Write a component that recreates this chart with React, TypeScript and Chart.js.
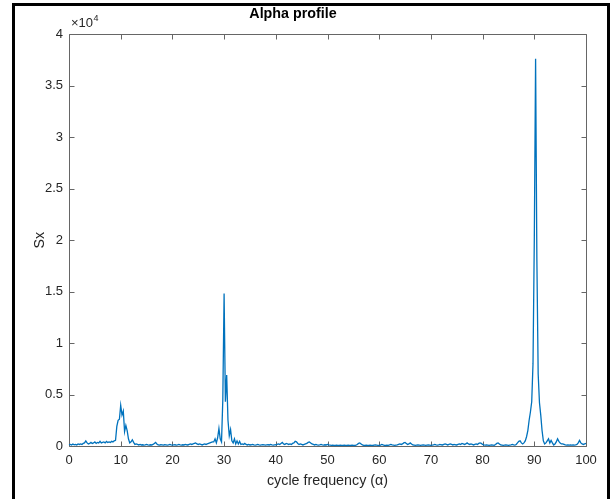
import React, { useEffect, useRef } from "react";
import { Chart, registerables } from "chart.js";

Chart.register(...registerables);

// ---------- data ----------
const ALPHA_START = 0;
const ALPHA_STEP = 0.25;

// Sx values sampled every 0.25 in alpha, from 0 to 100
const SX_VALUES: number[] = [
  // 0.00 - 4.75
  100, 150, 100, 200, 120, 150, 100, 200, 150, 200, 150, 250, 300, 500, 300, 200, 250, 350, 250, 300,
  // 5.00 - 9.75
  400, 250, 350, 300, 450, 300, 350, 400, 300, 450, 350, 400, 350, 450, 400, 500, 550, 1900, 2500, 2600,
  // 10.00 - 14.75
  3950, 3000, 3400, 1400, 2000, 1500, 700, 300, 400, 600, 350, 150, 200, 150, 100, 150, 100, 120, 80, 100,
  // 15.00 - 19.75
  150, 100, 80, 120, 100, 150, 250, 350, 200, 100, 80, 120, 100, 80, 120, 100, 80, 100, 150, 100,
  // 20.00 - 24.75
  80, 100, 120, 80, 100, 150, 100, 80, 120, 100, 150, 120, 100, 150, 200, 150, 200, 250, 300, 200,
  // 25.00 - 29.75
  150, 200, 150, 100, 150, 200, 150, 200, 250, 300, 350, 400, 400, 700, 300, 800, 1700, 700, 400, 4500,
  // 30.00 - 34.75
  14800, 4300, 6900, 2500, 1000, 1600, 500, 300, 700, 200, 500, 200, 450, 150, 200, 150, 250, 150, 100, 150,
  // 35.00 - 39.75
  100, 120, 150, 100, 80, 100, 150, 100, 80, 100, 120, 100, 80, 100, 120, 100, 150, 100, 80, 100,
  // 40.00 - 44.75
  120, 150, 200, 150, 250, 350, 200, 150, 250, 200, 150, 200, 150, 250, 300, 450, 400, 250, 150, 200,
  // 45.00 - 49.75
  150, 100, 150, 200, 250, 350, 400, 300, 200, 150, 100, 150, 100, 80, 100, 150, 100, 80, 120, 100,
  // 50.00 - 54.75
  150, 100, 80, 60, 80, 60, 50, 80, 60, 50, 80, 60, 50, 80, 60, 50, 80, 60, 50, 80,
  // 55.00 - 59.75
  60, 50, 80, 150, 250, 300, 200, 100, 60, 50, 80, 60, 50, 80, 60, 50, 80, 100, 80, 60,
  // 60.00 - 64.75
  50, 80, 150, 100, 60, 50, 80, 60, 100, 150, 100, 80, 60, 80, 100, 150, 200, 150, 200, 300,
  // 65.00 - 69.75
  350, 250, 150, 200, 300, 200, 100, 80, 60, 80, 100, 80, 60, 80, 100, 80, 60, 80, 100, 80,
  // 70.00 - 74.75
  60, 80, 100, 150, 100, 80, 100, 150, 120, 100, 150, 200, 150, 100, 150, 200, 150, 100, 150, 120,
  // 75.00 - 79.75
  100, 150, 200, 150, 250, 200, 150, 200, 300, 200, 150, 200, 150, 100, 150, 200, 150, 250, 300, 250,
  // 80.00 - 84.75
  150, 100, 80, 100, 80, 60, 80, 100, 80, 60, 150, 250, 300, 200, 100, 80, 60, 80, 100, 80,
  // 85.00 - 89.75
  60, 80, 100, 150, 100, 80, 150, 300, 450, 500, 300, 200, 300, 500, 900, 1500, 2500, 3300, 4300, 8000,
  // 90.00 - 94.75
  20000, 37600, 18000, 7000, 4200, 3000, 1500, 500, 200, 300, 500, 700, 300, 550, 300, 100, 200, 400, 700, 450,
  // 95.00 - 99.75
  300, 200, 200, 150, 100, 80, 100, 80, 100, 80, 100, 80, 100, 150, 300, 550, 300, 200, 150, 200,
  // 100.00
  250,
];

const X_TICKS = [0, 10, 20, 30, 40, 50, 60, 70, 80, 90, 100];
const Y_TICKS = [0, 5000, 10000, 15000, 20000, 25000, 30000, 35000, 40000];
const Y_TICK_LABELS = ["0", "0.5", "1", "1.5", "2", "2.5", "3", "3.5", "4"];

const TITLE = "Alpha profile";
const X_LABEL = "cycle frequency (α)";
const Y_LABEL = "Sx";
const EXP_BASE = "×10";
const EXP_POWER = "4";

// ---------- style ----------
const FONT = "'Liberation Sans', Arial, Helvetica, sans-serif";
const LINE_COLOR = "#0072BD";
const AXIS_COLOR = "#666666";
const TEXT_COLOR = "#262626";

const axesBox = {
  id: "axesBox",
  beforeDatasetsDraw(chart: any) {
    const { ctx, chartArea, scales } = chart;
    const l = Math.round(chartArea.left) + 0.5;
    const r = Math.round(chartArea.right) + 0.5;
    const t = Math.round(chartArea.top) + 0.5;
    const b = Math.round(chartArea.bottom) + 0.5;
    const tl = 5;
    ctx.save();
    ctx.strokeStyle = AXIS_COLOR;
    ctx.lineWidth = 1;
    ctx.beginPath();
    ctx.rect(l, t, r - l, b - t);
    for (const v of X_TICKS) {
      const x = Math.round(scales.x.getPixelForValue(v)) + 0.5;
      ctx.moveTo(x, b);
      ctx.lineTo(x, b - tl);
      ctx.moveTo(x, t);
      ctx.lineTo(x, t + tl);
    }
    for (const v of Y_TICKS) {
      const y = Math.round(scales.y.getPixelForValue(v)) + 0.5;
      ctx.moveTo(l, y);
      ctx.lineTo(l + tl, y);
      ctx.moveTo(r, y);
      ctx.lineTo(r - tl, y);
    }
    ctx.stroke();
    ctx.restore();
  },
  afterDraw(chart: any) {
    const { ctx, chartArea } = chart;
    ctx.save();
    ctx.fillStyle = TEXT_COLOR;
    ctx.textBaseline = "alphabetic";
    ctx.textAlign = "left";
    ctx.font = `13px ${FONT}`;
    const x0 = chartArea.left + 2;
    const y0 = chartArea.top - 7;
    ctx.fillText(EXP_BASE, x0, y0);
    const w = ctx.measureText(EXP_BASE).width;
    ctx.font = `9px ${FONT}`;
    ctx.fillText(EXP_POWER, x0 + w + 0.5, y0 - 6);
    ctx.restore();
  },
};

export default function App() {
  const canvasRef = useRef<HTMLCanvasElement | null>(null);

  useEffect(() => {
    const canvas = canvasRef.current;
    if (!canvas) return;
    const points = SX_VALUES.map((v, i) => ({ x: ALPHA_START + i * ALPHA_STEP, y: v }));
    const chart = new Chart(canvas, {
      type: "line",
      data: {
        datasets: [
          {
            data: points,
            borderColor: LINE_COLOR,
            borderWidth: 1.3,
            pointRadius: 0,
            tension: 0,
            fill: false,
            clip: 4,
          } as any,
        ],
      },
      options: {
        responsive: false,
        animation: false,
        devicePixelRatio: 1,
        layout: { padding: { left: 0, right: 28, top: 0, bottom: 0 } },
        plugins: {
          legend: { display: false },
          tooltip: { enabled: false },
          title: {
            display: true,
            text: TITLE,
            color: "#000000",
            font: { family: FONT, size: 14.3, weight: "bold" },
            padding: { top: 5, bottom: 12 },
          },
        },
        scales: {
          x: {
            type: "linear",
            min: 0,
            max: 100,
            grid: { display: false, drawTicks: false },
            border: { display: false },
            afterBuildTicks: (scale: any) => {
              scale.ticks = X_TICKS.map((v) => ({ value: v }));
            },
            ticks: {
              autoSkip: false,
              maxRotation: 0,
              padding: 7,
              color: TEXT_COLOR,
              font: { family: FONT, size: 13 },
              callback: (v: any) => String(v),
            },
            title: {
              display: true,
              text: X_LABEL,
              color: TEXT_COLOR,
              font: { family: FONT, size: 14.3 },
              padding: { top: 0, bottom: 9 },
            },
            afterFit: (scale: any) => {
              scale.height = 53;
            },
          },
          y: {
            type: "linear",
            min: 0,
            max: 40000,
            grid: { display: false, drawTicks: false },
            border: { display: false },
            afterBuildTicks: (scale: any) => {
              scale.ticks = Y_TICKS.map((v) => ({ value: v }));
            },
            ticks: {
              autoSkip: false,
              padding: 6,
              color: TEXT_COLOR,
              font: { family: FONT, size: 13 },
              callback: (v: any) => {
                const i = Y_TICKS.indexOf(Number(v));
                return i >= 0 ? Y_TICK_LABELS[i] : "";
              },
            },
            title: {
              display: true,
              text: Y_LABEL,
              color: TEXT_COLOR,
              font: { family: FONT, size: 14.3 },
              padding: { top: 31, bottom: 0 },
            },
            afterFit: (scale: any) => {
              scale.width = 69;
            },
          },
        },
      },
      plugins: [axesBox],
    });
    return () => chart.destroy();
  }, []);

  return (
    <div
      style={{
        position: "fixed",
        left: 0,
        top: 0,
        width: 614,
        height: 499,
        overflow: "hidden",
        background: "#ffffff",
      }}
    >
      <canvas ref={canvasRef} width={614} height={499} style={{ position: "absolute", left: 0, top: 0 }} />
      <div
        style={{
          position: "absolute",
          left: 12,
          top: 3,
          width: 592,
          height: 700,
          borderLeft: "3px solid #000",
          borderTop: "3px solid #000",
          borderRight: "3px solid #000",
          pointerEvents: "none",
        }}
      />
    </div>
  );
}
